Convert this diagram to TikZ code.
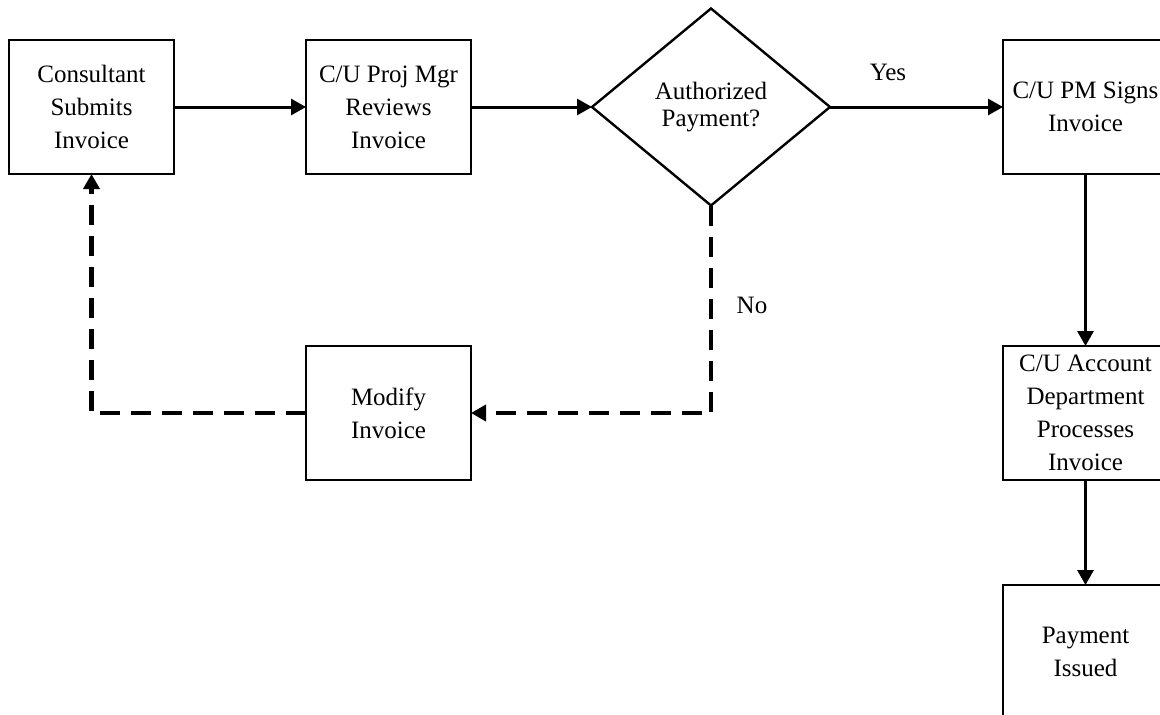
\documentclass[tikz,border=0pt]{standalone}
\usepackage{fontspec}
\setmainfont{Liberation Serif}
\usetikzlibrary{positioning,shapes.geometric,arrows.meta}

\begin{document}
\begin{tikzpicture}[x=1pt,y=-1pt,
stepbox/.style={draw,
  line width=2.8pt,
  minimum width=165pt,
  minimum height=134pt,
  inner sep=0pt,outer sep=0pt,align=center,
  node font=\fontsize{25}{33}\selectfont
},
decision/.style={diamond,draw,
  line width=2.4pt,
  aspect=1.21,
  minimum width=238pt,
  minimum height=197pt,
  inner sep=0pt,outer sep=0pt,align=center,
  node font=\fontsize{25}{27}\selectfont
},
flow/.style={line width=3pt,-{Triangle[length=15pt,width=16pt]}},
loopback/.style={flow,line width=4.2pt,dash pattern=on 20pt off 11pt},
answer/.style={node font=\fontsize{25}{30}\selectfont}]
\useasboundingbox (0,0) rectangle (1160,715);
\clip (0,0) rectangle (1160,715);

\node (subm) [stepbox] at (91.5,107) {Consultant\\Submits\\Invoice};

\node (rev) [stepbox, right=132pt of subm] {C/U Proj Mgr\\Reviews\\Invoice};

\node (auth) [decision, right=121pt of rev] {Authorized\\Payment?};

\node (sign) [stepbox, right=173pt of auth] {C/U PM Signs\\Invoice};

\node (acct) [stepbox, below=172pt of sign] {C/U Account\\Department\\Processes\\Invoice};

\node (paid) [stepbox, below=105pt of acct] {Payment\\Issued};

\node (mod) [stepbox, below=172pt of rev] {Modify\\Invoice};


\draw [flow] (subm) to (rev);
\draw [flow] (rev) to (auth);
\draw [flow] (auth) to node [answer, pos=0.335, yshift=35pt] (yes) {Yes} (sign);
\draw [flow] (sign) to (acct);
\draw [flow] (acct) to (paid);
\draw [loopback] (auth.south) |- node [answer, pos=0.24, xshift=41pt] (no) {No} (mod.east);
\draw [loopback] (mod.west) -| (subm.south);
\end{tikzpicture}
\end{document}
